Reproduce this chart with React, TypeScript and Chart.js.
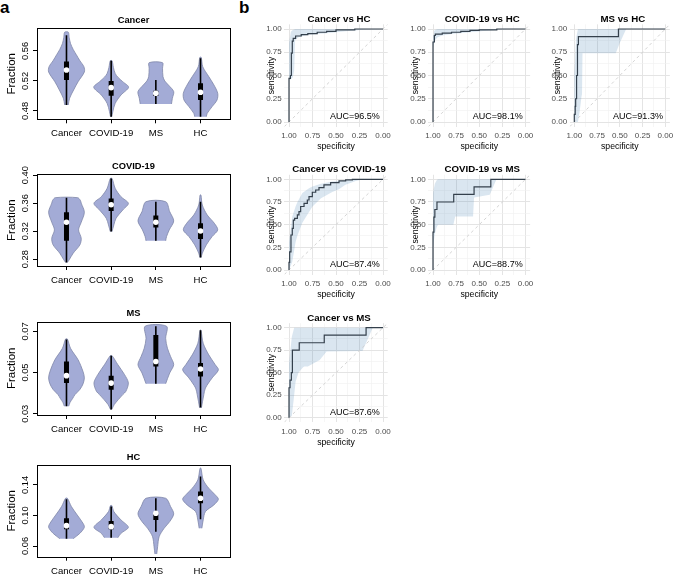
import React, { useEffect, useRef } from 'react';
import { Chart, registerables } from 'chart.js';

Chart.register(...registerables);

const FONT = '"Liberation Sans", Arial, Helvetica, sans-serif';
Chart.defaults.font.family = FONT;

// ---------------- Panel a : violin plots ----------------
const groups = ['Cancer', 'COVID-19', 'MS', 'HC'];

const cancerTicks = [0.48, 0.52, 0.56];
const covidTicks = [0.28, 0.32, 0.36, 0.4];
const msTicks = [0.03, 0.05, 0.07];
const hcTicks = [0.06, 0.1, 0.14];

// "Cancer" fraction panel
const cancerDensY = [
  [0.488, 0.497, 0.508, 0.519, 0.532, 0.539, 0.547, 0.555, 0.562, 0.57, 0.578, 0.585],
  [0.4724, 0.479, 0.49, 0.5013, 0.5116, 0.519, 0.525, 0.53, 0.538, 0.547],
  [0.4893, 0.4969, 0.5058, 0.5147, 0.52, 0.5258, 0.5369, 0.5444],
  [0.4724, 0.4769, 0.4858, 0.4947, 0.5036, 0.5147, 0.5258, 0.539, 0.5515],
];
const cancerDensW = [
  [0.04, 0.07, 0.16, 0.26, 0.4, 0.39, 0.3, 0.22, 0.15, 0.09, 0.06, 0.04],
  [0.015, 0.037, 0.089, 0.22, 0.39, 0.26, 0.15, 0.09, 0.05, 0.02],
  [0.35, 0.37, 0.4, 0.28, 0.2, 0.16, 0.15, 0.15],
  [0.13, 0.15, 0.26, 0.37, 0.385, 0.3, 0.185, 0.05, 0.015],
];
const cancerLo = [0.488, 0.4724, 0.4893, 0.4724];
const cancerHi = [0.581, 0.547, 0.5213, 0.5502];
const cancerQ1 = [0.5213, 0.5004, 0.5, 0.4947];
const cancerQ3 = [0.5458, 0.52, 0.507, 0.5169];
const cancerMed = [0.5347, 0.5111, 0.5036, 0.5049];

// "COVID-19" fraction panel
const covidDensY = [
  [0.2753, 0.279, 0.2885, 0.3004, 0.3099, 0.3218, 0.3327, 0.347, 0.36, 0.364, 0.3678],
  [0.3194, 0.3289, 0.3384, 0.3502, 0.3597, 0.3692, 0.3811, 0.3953],
  [0.3061, 0.3123, 0.3218, 0.3346, 0.3479, 0.3621],
  [0.2824, 0.2885, 0.3004, 0.3123, 0.3218, 0.3312, 0.3431, 0.3573, 0.3716],
];
const covidDensW = [
  [0.02, 0.06, 0.15, 0.3, 0.33, 0.27, 0.33, 0.4, 0.33, 0.31, 0.25],
  [0.02, 0.06, 0.11, 0.26, 0.385, 0.22, 0.09, 0.02],
  [0.22, 0.24, 0.3, 0.4, 0.31, 0.22],
  [0.015, 0.04, 0.13, 0.26, 0.385, 0.31, 0.15, 0.04, 0.01],
];
const covidLo = [0.2753, 0.3194, 0.3061, 0.2824];
const covidHi = [0.3678, 0.3953, 0.3621, 0.3621];
const covidQ1 = [0.3061, 0.3488, 0.3251, 0.3089];
const covidQ3 = [0.3469, 0.3668, 0.3422, 0.3312];
const covidMed = [0.3327, 0.3578, 0.3327, 0.3203];

// "MS" fraction panel
const msDensY = [
  [0.0337, 0.0355, 0.0375, 0.0393, 0.0418, 0.0445, 0.0474, 0.0505, 0.0562, 0.0618, 0.0663],
  [0.0321, 0.0345, 0.0393, 0.0409, 0.045, 0.049, 0.0538, 0.0582],
  [0.0446, 0.0498, 0.0538, 0.0578, 0.0618, 0.0666, 0.0725],
  [0.0329, 0.0393, 0.0425, 0.0474, 0.0513, 0.0538, 0.0586, 0.0642, 0.0706],
];
const msDensW = [
  [0.05, 0.08, 0.14, 0.19, 0.3, 0.37, 0.4, 0.37, 0.26, 0.09, 0.02],
  [0.015, 0.07, 0.26, 0.33, 0.385, 0.3, 0.15, 0.02],
  [0.22, 0.31, 0.4, 0.33, 0.26, 0.22, 0.24],
  [0.02, 0.074, 0.11, 0.26, 0.4, 0.33, 0.185, 0.06, 0.01],
];
const msLo = [0.0337, 0.0321, 0.0446, 0.033];
const msHi = [0.066, 0.0582, 0.0725, 0.0706];
const msQ1 = [0.0449, 0.0417, 0.0529, 0.0481];
const msQ3 = [0.0554, 0.0485, 0.0682, 0.0546];
const msMed = [0.0485, 0.0449, 0.0554, 0.0517];

// "HC" fraction panel
const hcDensY = [
  [0.0696, 0.0766, 0.0845, 0.0897, 0.1006, 0.1116, 0.1225],
  [0.0709, 0.0766, 0.0845, 0.0941, 0.105, 0.1129],
  [0.0495, 0.0591, 0.0722, 0.0832, 0.0919, 0.102, 0.1116, 0.1225],
  [0.0832, 0.0941, 0.105, 0.1138, 0.1212, 0.1269, 0.1356, 0.1465, 0.1618],
];
const hcDensW = [
  [0.15, 0.3, 0.4, 0.37, 0.24, 0.11, 0.02],
  [0.15, 0.22, 0.385, 0.22, 0.06, 0.015],
  [0.02, 0.04, 0.074, 0.185, 0.31, 0.4, 0.33, 0.22],
  [0.03, 0.06, 0.11, 0.3, 0.4, 0.33, 0.185, 0.06, 0.01],
];
const hcLo = [0.0696, 0.0709, 0.0788, 0.095];
const hcHi = [0.1212, 0.1116, 0.1225, 0.1509];
const hcQ1 = [0.0818, 0.0818, 0.0941, 0.1159];
const hcQ3 = [0.0963, 0.0928, 0.1037, 0.1312];
const hcMed = [0.0866, 0.0853, 0.1028, 0.1225];

// ---------------- Panel b : ROC curves ----------------
const rocTitles = ['Cancer vs HC', 'COVID-19 vs HC', 'MS vs HC', 'Cancer vs COVID-19', 'COVID-19 vs MS', 'Cancer vs MS'];
const aucValues = [96.5, 98.1, 91.3, 87.4, 88.7, 87.6];
const rocTickValues = [0, 0.125, 0.25, 0.375, 0.5, 0.625, 0.75, 0.875, 1];

const rocCancerHcSpec = [1, 0.985, 0.975, 0.965, 0.955, 0.93, 0.87, 0.8, 0.7, 0.6, 0.5, 0.3, 0];
const rocCancerHcSens = [0, 0.47, 0.5, 0.74, 0.87, 0.9, 0.925, 0.94, 0.95, 0.965, 0.975, 0.99, 1];
const ciCancerHcSpec = [1, 0.98, 0.96, 0.945, 0.935, 0.9, 0.85, 0.8, 0.7, 0.6, 0.5, 0.4, 0.3, 0.2, 0];
const ciCancerHcLow = [0.45, 0.46, 0.48, 0.55, 0.88, 0.91, 0.925, 0.935, 0.945, 0.955, 0.965, 0.975, 0.985, 0.995, 1];
const ciCancerHcHigh = [0.85, 0.97, 0.99, 0.995, 1, 1, 1, 1, 1, 1, 1, 1, 1, 1, 1];

const rocCovidHcSpec = [1, 0.985, 0.975, 0.9, 0.8, 0.7, 0.6, 0.5, 0.31, 0];
const rocCovidHcSens = [0, 0.86, 0.93, 0.945, 0.955, 0.965, 0.975, 0.985, 0.99, 1];
const ciCovidHcSpec = [1, 0.99, 0.98, 0.95, 0.9, 0.8, 0.6, 0.4, 0.2, 0];
const ciCovidHcLow = [0.8, 0.84, 0.88, 0.91, 0.93, 0.945, 0.965, 0.985, 1, 1];
const ciCovidHcHigh = [0.93, 0.97, 0.99, 1, 1, 1, 1, 1, 1, 1];

const rocMsHcSpec = [1, 0.99, 0.985, 0.975, 0.965, 0.955, 0.515, 0];
const rocMsHcSens = [0, 0.083, 0.167, 0.25, 0.5, 0.833, 0.917, 1];
const ciMsHcSpec = [1, 0.98, 0.96, 0.94, 0.92, 0.915, 0.91, 0.545, 0.5, 0.43, 0];
const ciMsHcLow = [0, 0, 0, 0.12, 0.28, 0.3, 0.74, 0.74, 0.85, 1, 1];
const ciMsHcHigh = [0.5, 0.9, 1, 1, 1, 1, 1, 1, 1, 1, 1];

const rocCancerCovidSpec = [1, 0.993, 0.979, 0.965, 0.954, 0.94, 0.911, 0.894, 0.876, 0.84, 0.805, 0.787, 0.752, 0.716, 0.681, 0.628, 0.557, 0.468, 0.397, 0.326, 0.255, 0];
const rocCancerCovidSens = [0, 0.085, 0.2, 0.386, 0.46, 0.55, 0.57, 0.607, 0.643, 0.7, 0.735, 0.772, 0.809, 0.857, 0.882, 0.908, 0.938, 0.963, 0.982, 0.993, 1, 1];
const ciCancerCovidSpec = [1, 0.965, 0.93, 0.91, 0.858, 0.787, 0.75, 0.66, 0.645, 0.54, 0.47, 0.4, 0.29, 0.255, 0.2, 0];
const ciCancerCovidLow = [0, 0.09, 0.31, 0.38, 0.52, 0.64, 0.7, 0.79, 0.8, 0.86, 0.89, 0.94, 0.98, 0.99, 1, 1];
const ciCancerCovidHigh = [0.3, 0.59, 0.7, 0.75, 0.85, 0.9, 0.92, 0.95, 0.955, 0.975, 0.98, 0.99, 1, 1, 1, 1];

const rocCovidMsSpec = [1, 0.99, 0.98, 0.957, 0.776, 0.556, 0.375, 0];
const rocCovidMsSens = [0, 0.417, 0.583, 0.667, 0.75, 0.833, 0.917, 1];
const ciCovidMsSpec = [1, 0.98, 0.96, 0.946, 0.94, 0.78, 0.76, 0.567, 0.556, 0.386, 0.314, 0];
const ciCovidMsLow = [0.25, 0.4, 0.47, 0.5, 0.5, 0.5, 0.59, 0.59, 0.8, 0.83, 1, 1];
const ciCovidMsHigh = [0.85, 0.95, 0.99, 1, 1, 1, 1, 1, 1, 1, 1, 1];

const rocCancerMsSpec = [1, 0.989, 0.975, 0.964, 0.891, 0.625, 0.18, 0];
const rocCancerMsSens = [0, 0.333, 0.417, 0.5, 0.75, 0.833, 0.917, 1];
const ciCancerMsSpec = [1, 0.97, 0.945, 0.93, 0.9, 0.85, 0.836, 0.8, 0.673, 0.6, 0.218, 0.109, 0];
const ciCancerMsLow = [0, 0.02, 0.25, 0.4, 0.5, 0.56, 0.57, 0.57, 0.64, 0.735, 0.74, 1, 1];
const ciCancerMsHigh = [0.6, 0.9, 1, 1, 1, 1, 1, 1, 1, 1, 1, 1, 1];

const rocSpecList = [rocCancerHcSpec, rocCovidHcSpec, rocMsHcSpec, rocCancerCovidSpec, rocCovidMsSpec, rocCancerMsSpec];
const rocSensList = [rocCancerHcSens, rocCovidHcSens, rocMsHcSens, rocCancerCovidSens, rocCovidMsSens, rocCancerMsSens];
const ciSpecList = [ciCancerHcSpec, ciCovidHcSpec, ciMsHcSpec, ciCancerCovidSpec, ciCovidMsSpec, ciCancerMsSpec];
const ciLowList = [ciCancerHcLow, ciCovidHcLow, ciMsHcLow, ciCancerCovidLow, ciCovidMsLow, ciCancerMsLow];
const ciHighList = [ciCancerHcHigh, ciCovidHcHigh, ciMsHcHigh, ciCancerCovidHigh, ciCovidMsHigh, ciCancerMsHigh];

// ---------------- styling / layout ----------------
const VIOLIN_FILL = '#a3abd6';
const VIOLIN_EDGE = '#7f86a8';
const BAND_FILL = 'rgba(70,130,180,0.2)';
const ROC_LINE = '#34404c';

type Geo = { left: number; top: number; width: number; height: number };

function ChartBox({ geo, build }: { geo: Geo; build: () => any }) {
  const ref = useRef<HTMLCanvasElement | null>(null);
  useEffect(() => {
    if (!ref.current) return;
    const chart = new Chart(ref.current, build());
    return () => chart.destroy();
  }, []);
  return (
    <div style={{ position: 'absolute', left: geo.left, top: geo.top, width: geo.width, height: geo.height }}>
      <canvas ref={ref} width={geo.width} height={geo.height} style={{ width: geo.width, height: geo.height, display: 'block' }} />
    </div>
  );
}

const noPad = (s: any) => {
  s.paddingLeft = 0;
  s.paddingRight = 0;
  s.paddingTop = 0;
  s.paddingBottom = 0;
};

type ViolinProps = {
  title: string;
  ys: number[][];
  ws: number[][];
  lo: number[];
  hi: number[];
  q1: number[];
  q3: number[];
  med: number[];
  yMin: number;
  yMax: number;
  ticks: number[];
  boxTop: number;
  boxBottom: number;
};

function ViolinPanel(p: ViolinProps) {
  const L = 37;
  const R = 230;
  const width = 236;
  const top = Math.floor(p.boxTop - 19);
  const height = Math.ceil(p.boxBottom + 26 - top);
  const padTop = p.boxTop - top;
  const xAxisH = top + height - p.boxBottom;
  const yTitleSize = 11.5;

  const build = () => {
    const datasets: any[] = [];
    p.ys.forEach((ys, gi) => {
      const g = gi + 1;
      const ws = p.ws[gi];
      const leftSide = ys.map((y, i) => ({ x: g - ws[i], y }));
      const rightSide = ys.map((y, i) => ({ x: g + ws[i], y })).reverse();
      datasets.push({
        data: [...leftSide, ...rightSide],
        showLine: true,
        fill: 'shape',
        backgroundColor: VIOLIN_FILL,
        borderColor: VIOLIN_EDGE,
        borderWidth: 0.8,
        pointRadius: 0,
        tension: 0.3,
        order: 4,
      });
      datasets.push({
        data: [{ x: g, y: p.lo[gi] }, { x: g, y: p.hi[gi] }],
        showLine: true,
        borderColor: '#000',
        borderWidth: 1.6,
        pointRadius: 0,
        order: 3,
      });
      datasets.push({
        data: [{ x: g, y: p.q1[gi] }, { x: g, y: p.q3[gi] }],
        showLine: true,
        borderColor: '#000',
        borderWidth: 5,
        borderCapStyle: 'butt',
        pointRadius: 0,
        order: 2,
      });
      datasets.push({
        data: [{ x: g, y: p.med[gi] }],
        pointRadius: 2.8,
        pointBackgroundColor: '#fff',
        pointBorderWidth: 0,
        pointBorderColor: '#fff',
        order: 1,
      });
    });

    const deco = {
      id: 'violinDeco',
      afterDraw(chart: any) {
        const { ctx, chartArea: a, scales } = chart;
        const ys = scales.y;
        ctx.save();
        ctx.strokeStyle = '#000';
        ctx.lineWidth = 1;
        const l = Math.round(a.left), t = Math.round(a.top), r = Math.round(a.right), b = Math.round(a.bottom);
        ctx.strokeRect(l + 0.5, t + 0.5, r - l, b - t);
        ctx.fillStyle = '#000';
        ctx.textAlign = 'center';
        ctx.textBaseline = 'middle';
        ctx.font = `bold 9.3px ${FONT}`;
        ctx.fillText(p.title, (a.left + a.right) / 2, a.top - 8);
        ctx.font = `9.3px ${FONT}`;
        for (const tk of ys.ticks) {
          const py = ys.getPixelForValue(tk.value);
          ctx.save();
          ctx.translate(a.left - 11.2, py);
          ctx.rotate(-Math.PI / 2);
          ctx.fillText(tk.value.toFixed(2), 0, 0);
          ctx.restore();
        }
        ctx.restore();
      },
    };

    return {
      type: 'scatter',
      data: { datasets },
      options: {
        animation: false,
        responsive: false,
        devicePixelRatio: 1,
        events: [],
        layout: { padding: { left: 0, top: padTop, right: width - R, bottom: 0 } },
        plugins: { legend: { display: false }, tooltip: { enabled: false }, title: { display: false } },
        scales: {
          x: {
            type: 'linear',
            min: 0.34,
            max: 4.66,
            afterBuildTicks: (s: any) => {
              s.ticks = groups.map((_, i) => ({ value: i + 1 }));
            },
            afterFit: (s: any) => {
              s.height = xAxisH;
              noPad(s);
            },
            ticks: {
              autoSkip: false,
              maxRotation: 0,
              minRotation: 0,
              padding: 4.7,
              color: '#000',
              font: { family: FONT, size: 9.6 },
              callback: (v: any) => groups[Math.round(Number(v)) - 1],
            },
            grid: { drawOnChartArea: false, drawTicks: true, tickLength: 4, color: '#000', lineWidth: 1 },
            border: { display: false },
          },
          y: {
            type: 'linear',
            min: p.yMin,
            max: p.yMax,
            afterBuildTicks: (s: any) => {
              s.ticks = p.ticks.map((v) => ({ value: v }));
            },
            afterFit: (s: any) => {
              s.width = L;
              noPad(s);
            },
            ticks: { display: false, autoSkip: false },
            grid: { drawOnChartArea: false, drawTicks: true, tickLength: 4, color: '#000', lineWidth: 1 },
            border: { display: false },
            title: {
              display: true,
              text: 'Fraction',
              color: '#000',
              font: { family: FONT, size: yTitleSize },
              padding: { top: 12 - (yTitleSize * 1.2) / 2, bottom: 0 },
            },
          },
        },
      },
      plugins: [deco],
    };
  };

  return <ChartBox geo={{ left: 0, top, width, height }} build={build} />;
}

type RocProps = { idx: number; x1: number; w: number; y1: number; h: number };

function RocPanel({ idx, x1, w, y1, h }: RocProps) {
  const PL = x1 - 0.05 * w;
  const PR = x1 + 1.05 * w;
  const PT = y1 - 0.05 * h;
  const PB = y1 + 1.05 * h;
  const y0 = y1 + h;
  const left = Math.floor(PL - 48);
  const top = Math.floor(PT - 22);
  const width = Math.ceil(PR + 6 - left);
  const height = Math.ceil(PB + 34 - top);
  const axTitleSize = 8.7;
  const lh = axTitleSize * 1.2;
  const yTitlePad = PL - 12.6 - left - lh / 2;
  const xTitlePad = top + height - (y0 + 24.5) - lh / 2;

  const isMajor = (v: number) => Math.abs(v * 4 - Math.round(v * 4)) < 1e-6;

  const build = () => {
    const spec = rocSpecList[idx];
    const sens = rocSensList[idx];
    const cs = ciSpecList[idx];
    const cl = ciLowList[idx];
    const ch = ciHighList[idx];
    const upper = cs.map((s, i) => ({ x: s, y: ch[i] }));
    const lower = cs.map((s, i) => ({ x: s, y: cl[i] })).reverse();
    const datasets: any[] = [
      {
        data: [...upper, ...lower],
        showLine: true,
        fill: 'shape',
        backgroundColor: BAND_FILL,
        borderColor: 'rgba(0,0,0,0)',
        borderWidth: 1,
        pointRadius: 0,
        order: 3,
      },
      {
        data: [{ x: 1.05, y: -0.05 }, { x: -0.05, y: 1.05 }],
        showLine: true,
        borderColor: '#cfcfcf',
        borderWidth: 0.9,
        borderDash: [3, 3],
        pointRadius: 0,
        order: 2,
      },
      {
        data: spec.map((s, i) => ({ x: s, y: sens[i] })),
        showLine: true,
        stepped: 'after',
        borderColor: ROC_LINE,
        borderWidth: 1.2,
        pointRadius: 0,
        order: 1,
      },
    ];

    const gridColor = (c: any) => (c.tick && isMajor(c.tick.value) ? '#e4e4e4' : '#f0f0f0');
    const gridWidth = (c: any) => (c.tick && isMajor(c.tick.value) ? 1 : 0.6);

    const deco = {
      id: 'rocDeco',
      afterDraw(chart: any) {
        const { ctx, chartArea: a, scales } = chart;
        ctx.save();
        ctx.fillStyle = '#000';
        ctx.textAlign = 'center';
        ctx.textBaseline = 'middle';
        ctx.font = `bold 9.7px ${FONT}`;
        ctx.fillText(rocTitles[idx], (a.left + a.right) / 2 + 3, a.top - 5);
        ctx.font = `9px ${FONT}`;
        ctx.fillText(`AUC=${aucValues[idx].toFixed(1)}%`, scales.x.getPixelForValue(0.3), scales.y.getPixelForValue(0.055));
        ctx.restore();
      },
    };

    return {
      type: 'scatter',
      data: { datasets },
      options: {
        animation: false,
        responsive: false,
        devicePixelRatio: 1,
        events: [],
        layout: { padding: { left: 0, top: PT - top, right: left + width - PR, bottom: 0 } },
        plugins: { legend: { display: false }, tooltip: { enabled: false }, title: { display: false } },
        scales: {
          x: {
            type: 'linear',
            min: -0.05,
            max: 1.05,
            reverse: true,
            afterBuildTicks: (s: any) => {
              s.ticks = rocTickValues.map((v) => ({ value: v }));
            },
            afterFit: (s: any) => {
              s.height = top + height - PB;
              noPad(s);
            },
            ticks: {
              autoSkip: false,
              maxRotation: 0,
              minRotation: 0,
              padding: 4.6,
              color: '#4d4d4d',
              font: { family: FONT, size: 8 },
              callback: (v: any) => (isMajor(Number(v)) ? Number(v).toFixed(2) : ''),
            },
            grid: { drawTicks: false, color: gridColor, lineWidth: gridWidth },
            border: { display: false },
            title: {
              display: true,
              text: 'specificity',
              color: '#000',
              font: { family: FONT, size: axTitleSize },
              padding: { top: 0, bottom: xTitlePad },
            },
          },
          y: {
            type: 'linear',
            min: -0.05,
            max: 1.05,
            afterBuildTicks: (s: any) => {
              s.ticks = rocTickValues.map((v) => ({ value: v }));
            },
            afterFit: (s: any) => {
              s.width = PL - left;
              noPad(s);
            },
            ticks: {
              autoSkip: false,
              padding: 2.6,
              color: '#4d4d4d',
              font: { family: FONT, size: 8 },
              callback: (v: any) => (isMajor(Number(v)) ? Number(v).toFixed(2) : ''),
            },
            grid: { drawTicks: false, color: gridColor, lineWidth: gridWidth },
            border: { display: false },
            title: {
              display: true,
              text: 'sensitivity',
              color: '#000',
              font: { family: FONT, size: axTitleSize },
              padding: { top: yTitlePad, bottom: 0 },
            },
          },
        },
      },
      plugins: [deco],
    };
  };

  return <ChartBox geo={{ left, top, width, height }} build={build} />;
}

const colX1 = [289, 433, 574.3];
const colW = [94, 92.5, 91];
const rowY1 = [29, 179.3, 327.7];
const rowH = [93, 90.7, 90];

export default function App() {
  return (
    <div
      style={{
        position: 'absolute',
        left: 0,
        top: 0,
        width: 675,
        height: 574,
        background: '#fff',
        overflow: 'hidden',
        fontFamily: FONT,
      }}
    >
      <div style={{ position: 'absolute', left: 0, top: -1, fontSize: 17, fontWeight: 'bold', lineHeight: '17px' }}>a</div>
      <div style={{ position: 'absolute', left: 239, top: -1, fontSize: 17, fontWeight: 'bold', lineHeight: '17px' }}>b</div>

      <ViolinPanel title="Cancer" ys={cancerDensY} ws={cancerDensW} lo={cancerLo} hi={cancerHi} q1={cancerQ1} q3={cancerQ3} med={cancerMed} yMin={0.4689} yMax={0.5902} ticks={cancerTicks} boxTop={28.3} boxBottom={119.3} />
      <ViolinPanel title="COVID-19" ys={covidDensY} ws={covidDensW} lo={covidLo} hi={covidHi} q1={covidQ1} q3={covidQ3} med={covidMed} yMin={0.2702} yMax={0.4012} ticks={covidTicks} boxTop={174.3} boxBottom={266} />
      <ViolinPanel title="MS" ys={msDensY} ws={msDensW} lo={msLo} hi={msHi} q1={msQ1} q3={msQ3} med={msMed} yMin={0.0294} yMax={0.0747} ticks={msTicks} boxTop={321.7} boxBottom={415} />
      <ViolinPanel title="HC" ys={hcDensY} ws={hcDensW} lo={hcLo} hi={hcHi} q1={hcQ1} q3={hcQ3} med={hcMed} yMin={0.046} yMax={0.166} ticks={hcTicks} boxTop={465} boxBottom={556.7} />

      <RocPanel idx={0} x1={colX1[0]} w={colW[0]} y1={rowY1[0]} h={rowH[0]} />
      <RocPanel idx={1} x1={colX1[1]} w={colW[1]} y1={rowY1[0]} h={rowH[0]} />
      <RocPanel idx={2} x1={colX1[2]} w={colW[2]} y1={rowY1[0]} h={rowH[0]} />
      <RocPanel idx={3} x1={colX1[0]} w={colW[0]} y1={rowY1[1]} h={rowH[1]} />
      <RocPanel idx={4} x1={colX1[1]} w={colW[1]} y1={rowY1[1]} h={rowH[1]} />
      <RocPanel idx={5} x1={colX1[0]} w={colW[0]} y1={rowY1[2]} h={rowH[2]} />
    </div>
  );
}
